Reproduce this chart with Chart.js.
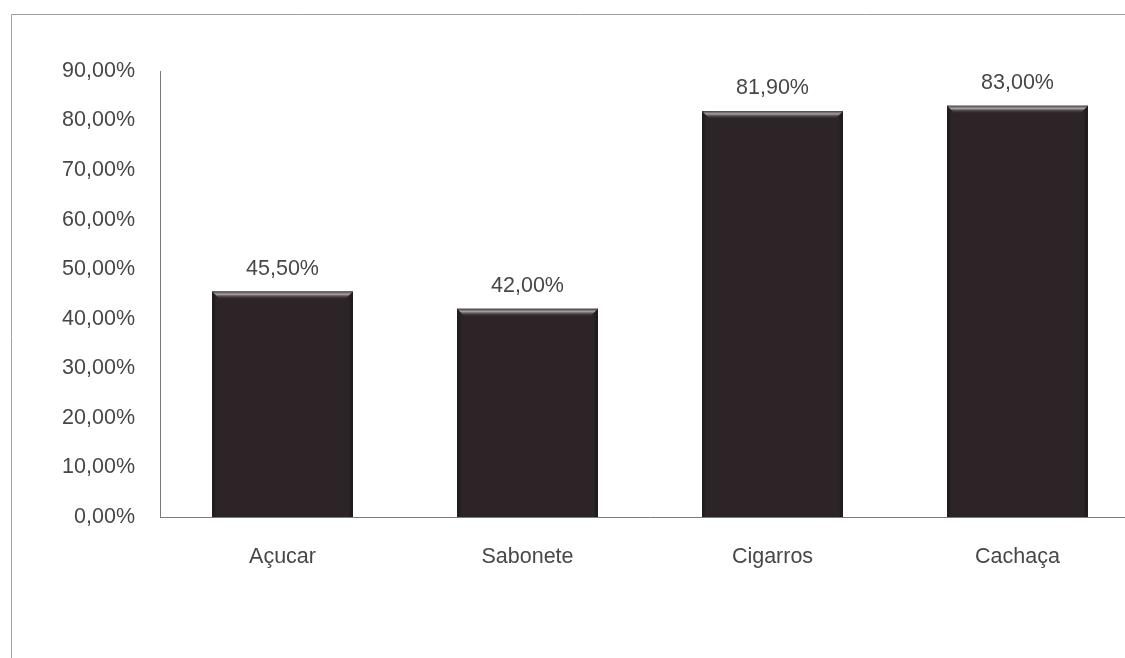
<!DOCTYPE html>
<html>
<head>
<meta charset="utf-8">
<script src="https://cdn.jsdelivr.net/npm/chart.js@4.4.1/dist/chart.umd.min.js"></script>
<style>
  html, body { margin: 0; padding: 0; background: #fff; overflow: hidden; }
  #wrap { position: relative; width: 1150px; height: 658px; }
</style>
</head>
<body>
<div id="wrap"><canvas id="grafico" width="1150" height="658"></canvas></div>
<script>
const categorias = ['Açucar', 'Sabonete', 'Cigarros', 'Cachaça'];
const percentuais = [45.5, 42.0, 81.9, 83.0];
const yMax = 90;
const yPasso = 10;

const corTexto = '#474747';
const corBarra = '#2c2426';
const fonte = '"Liberation Sans", Arial, sans-serif';

function formataPct(v) {
    return v.toFixed(2).replace('.', ',') + '%';
}

// moldura cinza (só topo e lado esquerdo aparecem)
const moldura = {
    id: 'moldura',
    beforeDraw(chart) {
        const ctx = chart.ctx;
        ctx.save();
        ctx.strokeStyle = '#a0a0a0';
        ctx.lineWidth = 1;
        ctx.beginPath();
        ctx.moveTo(11.5, 700);
        ctx.lineTo(11.5, 14.5);
        ctx.lineTo(1150, 14.5);
        ctx.stroke();
        ctx.restore();
    }
};

// bisel no topo das barras e rótulos de valor
const barrasEValores = {
    id: 'barrasEValores',
    afterDatasetsDraw(chart) {
        const ctx = chart.ctx;
        const meta = chart.getDatasetMeta(0);
        ctx.save();
        meta.data.forEach((bar, i) => {
            const esq = bar.x - bar.width / 2;
            const dir = esq + bar.width;
            const alt = bar.base - bar.y;

            // laterais um pouco mais escuras
            const lat = ctx.createLinearGradient(esq, 0, dir, 0);
            lat.addColorStop(0, 'rgba(20,15,16,0.7)');
            lat.addColorStop(0.03, 'rgba(20,15,16,0)');
            lat.addColorStop(0.97, 'rgba(20,15,16,0)');
            lat.addColorStop(1, 'rgba(20,15,16,0.7)');
            ctx.fillStyle = lat;
            ctx.fillRect(esq, bar.y, bar.width, alt);

            const g = ctx.createLinearGradient(0, bar.y, 0, bar.y + 8);
            g.addColorStop(0, 'rgba(70,62,64,1)');
            g.addColorStop(0.35, 'rgba(175,168,168,0.95)');
            g.addColorStop(0.6, 'rgba(110,102,104,0.6)');
            g.addColorStop(1, 'rgba(44,36,38,0)');
            ctx.fillStyle = g;
            ctx.beginPath();
            ctx.moveTo(esq, bar.y);
            ctx.lineTo(dir, bar.y);
            ctx.lineTo(dir - 8, bar.y + 8);
            ctx.lineTo(esq + 8, bar.y + 8);
            ctx.closePath();
            ctx.fill();

            ctx.fillStyle = corTexto;
            ctx.font = '21.5px ' + fonte;
            ctx.textAlign = 'center';
            ctx.textBaseline = 'alphabetic';
            ctx.fillText(formataPct(percentuais[i]), bar.x, bar.y - 17);
        });
        ctx.restore();
    }
};

new Chart(document.querySelector('#grafico'), {
    type: 'bar',
    data: {
        labels: categorias,
        datasets: [{
            data: percentuais,
            backgroundColor: corBarra,
            borderWidth: 0,
            categoryPercentage: 1,
            barPercentage: 0.575
        }]
    },
    options: {
        responsive: false,
        animation: false,
        events: [],
        layout: { padding: { top: 71, right: 10, bottom: 0, left: 0 } },
        plugins: {
            legend: { display: false },
            tooltip: { enabled: false }
        },
        scales: {
            x: {
                grid: { display: false, drawTicks: false },
                border: { color: '#7a7a7a', width: 1 },
                ticks: {
                    color: corTexto,
                    padding: 27,
                    font: { family: fonte, size: 21.5 }
                },
                afterFit(scale) { scale.height = 141; }
            },
            y: {
                min: 0,
                max: yMax,
                grid: { display: false, drawTicks: false },
                border: { color: '#7a7a7a', width: 1 },
                ticks: {
                    stepSize: yPasso,
                    color: corTexto,
                    padding: 25,
                    font: { family: fonte, size: 21.5 },
                    callback: v => formataPct(v)
                },
                afterFit(scale) { scale.width = 160; }
            }
        }
    },
    plugins: [moldura, barrasEValores]
});
</script>
</body>
</html>
